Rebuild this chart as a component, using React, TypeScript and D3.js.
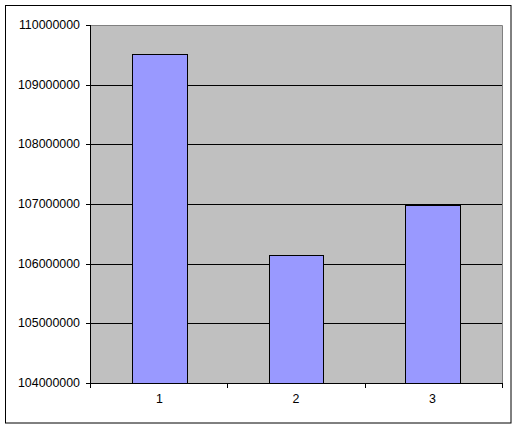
import React from "react";
import * as d3 from "d3";

const categories = ["1", "2", "3"];
const values = [109510000, 106140000, 106975000];
const yTicks = [104000000, 105000000, 106000000, 107000000, 108000000, 109000000, 110000000];

const W = 517;
const H = 428;
const plot = { left: 90, top: 25, right: 502, bottom: 383 };

export default function App() {
  const x = d3
    .scaleBand<string>()
    .domain(categories)
    .range([plot.left, plot.right])
    .paddingInner(0.6)
    .paddingOuter(0.31);
  const band = (plot.right - plot.left) / categories.length;
  const y = d3.scaleLinear().domain([104000000, 110000000]).range([plot.bottom, plot.top]);
  const boundaries = d3.range(categories.length + 1).map((i) => plot.left + i * band);

  return (
    <svg
      width={W}
      height={H}
      style={{ position: "absolute", left: 0, top: 0, background: "#fff" }}
      fontFamily="'Liberation Sans', Arial, sans-serif"
      fontSize={12.4}
    >
      <rect x={5.5} y={5.5} width={505.5} height={417.5} fill="#fff" stroke="#000" strokeWidth={1} />
      <rect x={plot.left} y={plot.top} width={plot.right - plot.left} height={plot.bottom - plot.top} fill="#C0C0C0" />
      <path
        d={`M${plot.left},${plot.top + 0.5}H${plot.right + 0.5}V${plot.bottom}`}
        fill="none"
        stroke="#808080"
        strokeWidth={1}
      />
      {yTicks.map((t) => (
        <g key={t}>
          {t !== 104000000 && t !== 110000000 && (
            <line x1={plot.left} x2={plot.right} y1={Math.round(y(t)) + 0.5} y2={Math.round(y(t)) + 0.5} stroke="#000" />
          )}
          <line x1={plot.left - 4} x2={plot.left} y1={Math.round(y(t)) + 0.5} y2={Math.round(y(t)) + 0.5} stroke="#000" />
          <text x={80} y={Math.round(y(t))} dy="0.35em" textAnchor="end" fill="#000">
            {t}
          </text>
        </g>
      ))}
      {categories.map((c, i) => {
        const x0 = Math.round(x(c)!);
        const x1 = Math.round(x(c)! + x.bandwidth());
        const yt = Math.round(y(values[i]));
        return (
          <rect
            key={c}
            x={x0 + 0.5}
            y={yt + 0.5}
            width={x1 - x0}
            height={plot.bottom - yt}
            fill="#9999FF"
            stroke="#000"
            strokeWidth={1}
          />
        );
      })}
      <line x1={plot.left + 0.5} x2={plot.left + 0.5} y1={plot.top} y2={plot.bottom + 1} stroke="#000" />
      <line x1={plot.left} x2={plot.right + 1} y1={plot.bottom + 0.5} y2={plot.bottom + 0.5} stroke="#000" />
      {boundaries.map((b, i) => (
        <line key={i} x1={Math.round(b) + 0.5} x2={Math.round(b) + 0.5} y1={plot.bottom} y2={plot.bottom + 5} stroke="#000" />
      ))}
      {categories.map((c) => (
        <text key={c} x={x(c)! + x.bandwidth() / 2} y={403} textAnchor="middle" fill="#000">
          {c}
        </text>
      ))}
    </svg>
  );
}
